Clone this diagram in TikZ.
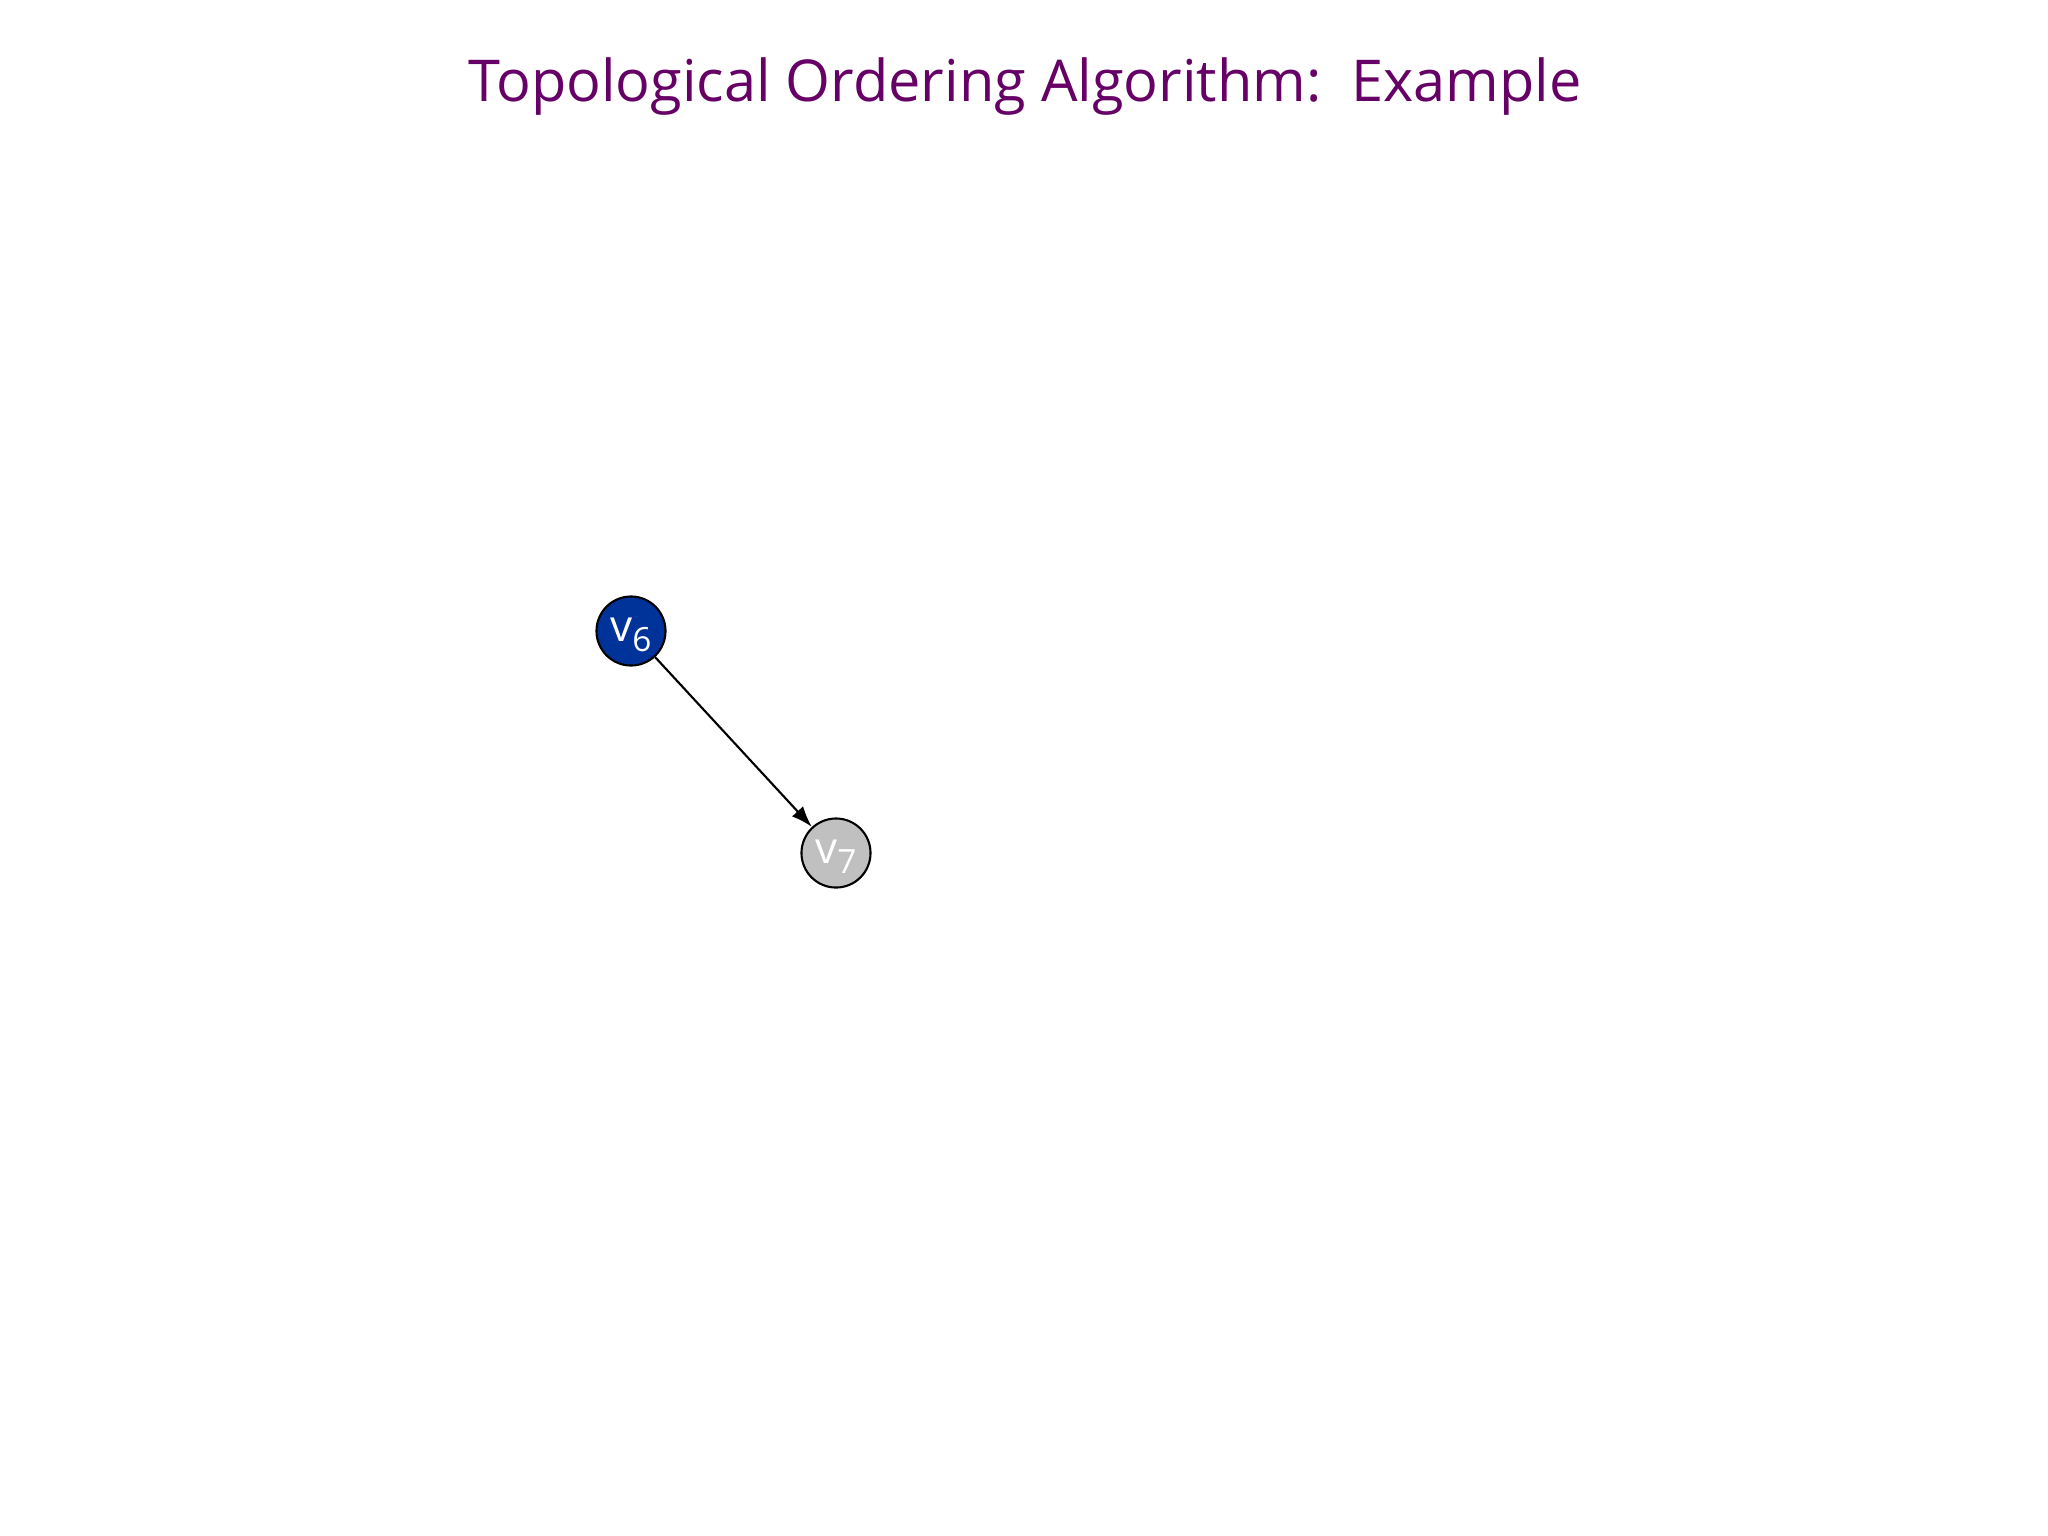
\documentclass[tikz,border=0pt]{standalone}
\usepackage{fontspec}
\setmainfont{Open Sans}
\usetikzlibrary{arrows.meta}
\definecolor{titlepurple}{RGB}{102,0,102}
\definecolor{nodeblue}{RGB}{0,51,153}
\definecolor{nodegray}{RGB}{192,192,192}
\newcommand{\vlabel}[1]{v\raisebox{-0.45ex}{\fontsize{9.5}{10}\selectfont #1}}
\tikzset{
  vert/.style={circle, draw=black, line width=0.6pt, minimum size=0.69cm, inner sep=0pt, text=white, text height=0.31cm, text depth=0.11cm, font=\fontsize{12.5}{14}\selectfont},
  edge/.style={line width=0.6pt, -{Latex[length=0.21cm,width=0.15cm]}}
}
\begin{document}
\begin{tikzpicture}[x=0.01cm,y=-0.01cm]
\useasboundingbox (0,0) rectangle (2048,1536);
\node[font=\fontsize{16.4}{20}\selectfont, text=titlepurple, anchor=base] (title) at (1025,101) {Topological Ordering Algorithm:\ \ Example};
\node[vert, fill=nodeblue] (v6) at (631,631) {\vlabel{6}};
\node[vert, fill=nodegray] (v7) at (836,853) {\vlabel{7}};
\draw[edge] (v6) -- (v7);
\end{tikzpicture}
\end{document}
